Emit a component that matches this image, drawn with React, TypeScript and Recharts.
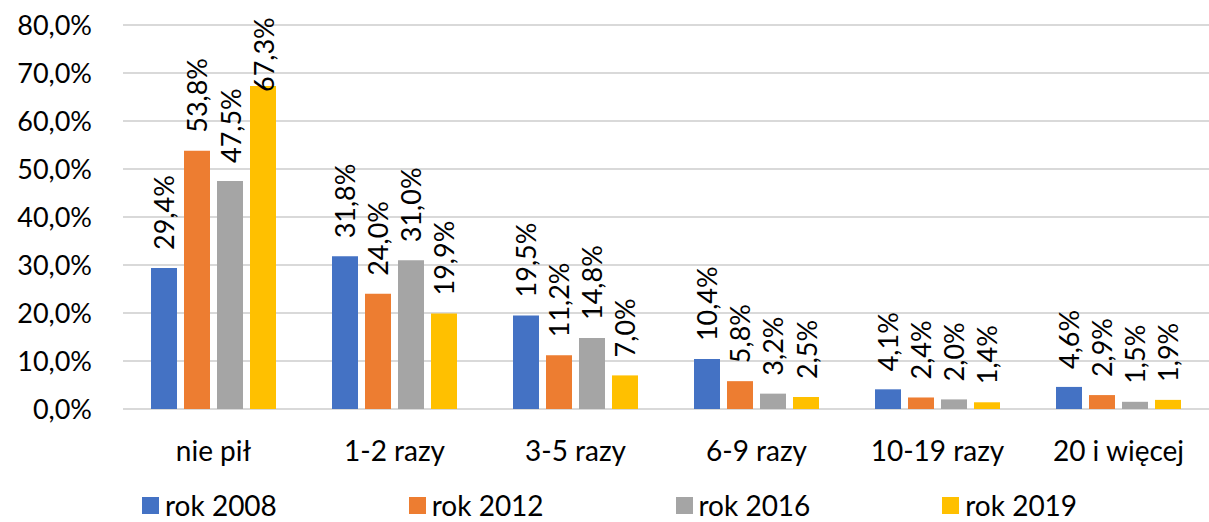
import React from 'react';
import { BarChart, Bar, XAxis, YAxis, CartesianGrid, Legend, LabelList } from 'recharts';

const categories = ['nie pił', '1-2 razy', '3-5 razy', '6-9 razy', '10-19 razy', '20 i więcej'];
const rok2008 = [29.4, 31.8, 19.5, 10.4, 4.1, 4.6];
const rok2012 = [53.8, 24.0, 11.2, 5.8, 2.4, 2.9];
const rok2016 = [47.5, 31.0, 14.8, 3.2, 2.0, 1.5];
const rok2019 = [67.3, 19.9, 7.0, 2.5, 1.4, 1.9];
const yTicks = [0, 10, 20, 30, 40, 50, 60, 70, 80];

const SERIES = [
  { key: 'r2008', name: 'rok 2008', color: '#4472C4' },
  { key: 'r2012', name: 'rok 2012', color: '#ED7D31' },
  { key: 'r2016', name: 'rok 2016', color: '#A5A5A5' },
  { key: 'r2019', name: 'rok 2019', color: '#FFC000' },
];

const data = categories.map((name, i) => ({
  name,
  r2008: rok2008[i],
  r2012: rok2012[i],
  r2016: rok2016[i],
  r2019: rok2019[i],
}));

const FONT = 'Lato, "Open Sans", sans-serif';
const fmt = (v: number) => v.toFixed(1).replace('.', ',') + '%';

// rotated value label above each bar, pushed down if it would leave the chart
const VerticalLabel = (props: any) => {
  const { x, y, width, value } = props;
  const cx = x + width / 2;
  const cy = Math.max(y - 18, 92);
  return (
    <text
      x={cx}
      y={cy}
      transform={`rotate(-90, ${cx}, ${cy})`}
      textAnchor="start"
      dominantBaseline="central"
      fontSize={27}
      fontFamily={FONT}
      fill="#000"
    >
      {fmt(value)}
    </text>
  );
};

const renderLegend = () => (
  <div style={{ display: 'flex', paddingLeft: 142, paddingTop: 21, fontFamily: FONT, fontSize: 28, color: '#000', lineHeight: '30px' }}>
    {SERIES.map(s => (
      <div key={s.key} style={{ width: 269, display: 'flex', alignItems: 'center' }}>
        <span style={{ width: 17, height: 17, background: s.color, display: 'inline-block', marginRight: 6 }}></span>
        <span>{s.name}</span>
      </div>
    ))}
  </div>
);

export default function App() {
  return (
    <div style={{ width: 1209, height: 522 }}>
      <style>{`body{margin:0}`}</style>
      <BarChart
        width={1209}
        height={522}
        data={data}
        margin={{ top: 25, right: 0, left: 0, bottom: 0 }}
        barSize={26}
        barGap={7}
      >
        <CartesianGrid vertical={false} stroke="#D9D9D9" strokeWidth={2} />
        <XAxis
          dataKey="name"
          axisLine={false}
          tickLine={false}
          height={60}
          tickMargin={26}
          tick={{ fontSize: 28, fontFamily: FONT, fill: '#000' }}
        />
        <YAxis
          width={123}
          domain={[0, 80]}
          ticks={yTicks}
          axisLine={false}
          tickLine={false}
          tickMargin={25}
          tickFormatter={fmt}
          tick={{ fontSize: 27, fontFamily: FONT, fill: '#000' }}
        />
        <Legend verticalAlign="bottom" height={53} content={renderLegend} />
        {SERIES.map(s => (
          <Bar key={s.key} dataKey={s.key} name={s.name} fill={s.color} isAnimationActive={false}>
            <LabelList dataKey={s.key} content={VerticalLabel} />
          </Bar>
        ))}
      </BarChart>
    </div>
  );
}
